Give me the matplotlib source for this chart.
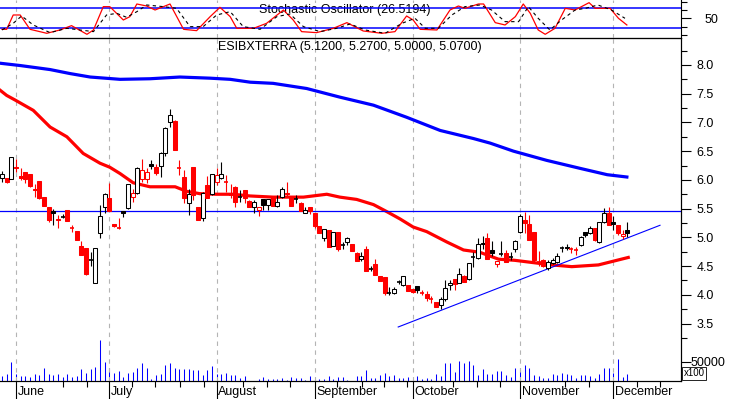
import numpy as np
import matplotlib
matplotlib.use("Agg")
import matplotlib.pyplot as plt
from matplotlib.ticker import FixedLocator, NullFormatter, FormatStrFormatter

plt.rcParams["font.family"] = ["Liberation Sans", "DejaVu Sans"]

# daily OHLC, one entry per trading day (June - early December)
opens = [6.04, 6.03, 6.02, 6.23, 6.06, 6.14, 6.10, 5.84, 5.98, 5.70,
         5.53, 5.45, 5.32, 5.36, 5.47, 5.18, 5.11, 4.85, 4.82, 4.60,
         4.21, 5.07, 5.52, 5.68, 5.23, 5.18, 5.45, 5.51, 5.70, 5.78,
         6.02, 6.02, 6.28, 6.23, 6.24, 6.46, 7.00, 7.03, 6.22, 6.05,
         5.59, 6.23, 5.53, 5.34, 5.91, 5.75, 5.97, 6.04, 5.98, 5.74,
         5.87, 5.70, 5.82, 5.63, 5.52, 5.47, 5.66, 5.57, 5.70, 5.55,
         5.70, 5.78, 5.70, 5.66, 5.60, 5.43, 5.52, 5.43, 5.19, 4.98,
         5.12, 4.85, 5.10, 4.86, 4.92, 4.88, 4.72, 4.62, 4.79, 4.45,
         4.53, 4.33, 4.31, 4.03, 4.03, 4.23, 4.17, 4.17, 4.10, 4.15,
         4.05, 4.02, 3.92, 3.88, 3.82, 3.92, 4.17, 4.27, 4.21, 4.33,
         4.27, 4.66, 4.64, 4.88, 4.98, 4.78, 4.53, 4.71, 4.72, 4.65,
         4.79, 5.10, 5.31, 5.24, 5.10, 4.57, 4.60, 4.47, 4.55, 4.57,
         4.81, 4.84, 4.81, 4.79, 4.86, 5.09, 5.07, 5.17, 4.92, 5.26,
         5.43, 5.27, 5.22, 5.02, 5.12]
highs = [6.15, 6.04, 6.40, 6.37, 6.21, 6.14, 6.11, 5.92, 5.98, 5.70,
         5.53, 5.50, 5.39, 5.40, 5.47, 5.21, 5.11, 4.94, 4.82, 4.75,
         4.81, 5.56, 5.78, 5.95, 5.24, 5.33, 5.45, 5.92, 5.85, 6.23,
         6.37, 6.20, 6.34, 6.27, 6.49, 6.92, 7.24, 7.05, 6.35, 6.18,
         5.85, 6.23, 5.53, 5.79, 6.06, 6.11, 6.20, 6.31, 6.08, 5.92,
         5.89, 5.82, 5.82, 5.65, 5.65, 5.53, 5.67, 5.67, 5.72, 5.73,
         5.87, 5.97, 5.71, 5.73, 5.61, 5.52, 5.52, 5.43, 5.19, 5.15,
         5.13, 5.10, 5.10, 4.92, 5.01, 4.88, 4.75, 4.75, 4.85, 4.50,
         4.62, 4.33, 4.31, 4.14, 4.14, 4.26, 4.33, 4.17, 4.10, 4.16,
         4.09, 4.06, 3.98, 3.88, 3.96, 4.26, 4.26, 4.27, 4.46, 4.35,
         4.55, 4.74, 4.99, 5.03, 5.07, 4.93, 4.58, 4.94, 4.78, 4.75,
         4.96, 5.40, 5.44, 5.39, 5.10, 4.77, 4.62, 4.60, 4.64, 4.72,
         4.85, 4.89, 4.84, 4.84, 5.03, 5.10, 5.19, 5.17, 5.27, 5.51,
         5.53, 5.38, 5.22, 5.12, 5.27]
lows = [5.97, 5.95, 6.01, 6.14, 6.00, 5.94, 5.88, 5.70, 5.67, 5.55,
        5.26, 5.21, 5.17, 5.33, 5.29, 5.09, 4.95, 4.70, 4.34, 4.50,
        4.20, 4.98, 5.42, 5.46, 5.18, 5.14, 5.36, 5.50, 5.62, 5.76,
        5.97, 5.94, 6.19, 6.08, 6.05, 6.42, 6.92, 6.52, 6.08, 5.59,
        5.39, 5.65, 5.31, 5.29, 5.68, 5.74, 5.91, 6.02, 5.79, 5.68,
        5.53, 5.62, 5.60, 5.53, 5.43, 5.38, 5.47, 5.47, 5.55, 5.53,
        5.69, 5.70, 5.55, 5.59, 5.46, 5.42, 5.40, 5.17, 5.08, 4.93,
        4.83, 4.85, 4.77, 4.80, 4.87, 4.77, 4.58, 4.58, 4.42, 4.41,
        4.34, 4.24, 4.00, 4.00, 4.02, 4.18, 4.15, 4.07, 4.04, 4.04,
        4.00, 3.89, 3.85, 3.78, 3.76, 3.90, 4.08, 4.09, 4.20, 4.22,
        4.26, 4.48, 4.62, 4.80, 4.63, 4.67, 4.49, 4.68, 4.57, 4.60,
        4.75, 5.08, 5.07, 4.95, 4.55, 4.50, 4.48, 4.44, 4.53, 4.56,
        4.74, 4.78, 4.72, 4.70, 4.85, 5.00, 5.06, 4.93, 4.90, 5.25,
        5.21, 5.12, 5.04, 4.97, 5.00]
closes = [6.10, 5.97, 6.39, 6.21, 6.04, 6.02, 5.89, 5.82, 5.68, 5.55,
          5.30, 5.42, 5.30, 5.36, 5.29, 5.17, 4.95, 4.70, 4.37, 4.60,
          4.81, 5.37, 5.76, 5.46, 5.19, 5.17, 5.42, 5.92, 5.78, 6.20,
          6.18, 6.13, 6.24, 6.12, 6.46, 6.91, 7.13, 6.52, 6.21, 5.68,
          5.76, 5.73, 5.31, 5.77, 5.69, 6.11, 6.09, 6.11, 5.97, 5.73,
          5.62, 5.70, 5.69, 5.53, 5.61, 5.52, 5.56, 5.66, 5.55, 5.62,
          5.85, 5.76, 5.55, 5.66, 5.46, 5.48, 5.46, 5.19, 5.08, 5.14,
          4.83, 5.10, 4.79, 4.86, 4.98, 4.77, 4.59, 4.67, 4.42, 4.45,
          4.34, 4.24, 4.03, 4.04, 4.10, 4.23, 4.33, 4.07, 4.05, 4.09,
          4.04, 3.95, 3.92, 3.78, 3.92, 4.11, 4.21, 4.18, 4.36, 4.23,
          4.55, 4.66, 4.89, 4.90, 4.63, 4.72, 4.58, 4.71, 4.57, 4.65,
          4.93, 5.37, 5.25, 4.95, 4.60, 4.57, 4.51, 4.57, 4.61, 4.67,
          4.81, 4.82, 4.80, 4.78, 5.01, 5.04, 5.17, 4.95, 5.27, 5.43,
          5.21, 5.23, 5.08, 5.06, 5.07]
# volume, in units of 100 shares
volumes = [13000, 18000, 49000, 18000, 13000, 13000, 11000, 18000, 16000, 34000,
           18000, 16000, 18000, 11000, 18000, 11000, 13000, 31000, 21000, 31000,
           36000, 106000, 49000, 34000, 21000, 26000, 11000, 21000, 23000, 34000,
           47000, 34000, 6000, 16000, 18000, 41000, 47000, 34000, 31000, 31000,
           31000, 28000, 28000, 16000, 28000, 39000, 18000, 18000, 21000, 16000,
           16000, 8000, 13000, 0, 0, 6000, 11000, 6000, 4400, 6000,
           8500, 2600, 11000, 8500, 8500, 2600, 13000, 6000, 4400, 6000,
           13000, 4400, 11000, 11000, 2600, 0, 13000, 13000, 28000, 7000,
           8500, 16000, 21000, 13000, 15000, 7000, 7000, 11000, 4000, 13000,
           6000, 8500, 6000, 18000, 13000, 46000, 46000, 24000, 52000, 46000,
           52000, 41000, 16000, 31000, 18000, 18000, 27000, 27000, 15000, 11000,
           33000, 33000, 41000, 33000, 16000, 13000, 8500, 8500, 18000, 15000,
           21000, 18000, 15000, 8500, 15000, 15000, 13000, 7000, 18000, 34000,
           33000, 21000, 57000, 11000, 18000]

# moving averages (trading-day index, price)
ma_short_x = [-0.4, 1.0, 2.8, 6.7, 10.3, 13.9, 17.4, 21.0, 23.1, 25.3, 28.1,
              31.7, 37.1, 39.6, 42.4, 46.0, 49.5, 53.2, 58.1, 64.6, 69.6, 72.4,
              76.0, 79.6, 82.4, 85.3, 88.1, 91.0, 95.3, 98.9, 102.4, 106.4, 109.9,
              117.8, 122.1, 127.8, 134.2]
ma_short = [7.56, 7.47, 7.39, 7.21, 6.92, 6.75, 6.46, 6.29, 6.22, 6.11, 5.95,
            5.88, 5.88, 5.80, 5.76, 5.75, 5.75, 5.72, 5.70, 5.70, 5.75, 5.70,
            5.66, 5.57, 5.45, 5.32, 5.18, 5.10, 4.92, 4.78, 4.74, 4.62, 4.60,
            4.52, 4.49, 4.52, 4.65]
ma_long_x = [-0.4, 3.9, 10.3, 14.6, 18.9, 25.3, 31.7, 38.1, 44.6, 48.9, 53.2,
             58.1, 65.3, 72.4, 79.6, 86.7, 93.9, 101.0, 104.6, 109.6, 116.7,
             123.9, 129.7, 133.9]
ma_long = [8.03, 7.99, 7.92, 7.85, 7.79, 7.75, 7.76, 7.79, 7.77, 7.75, 7.70,
           7.68, 7.59, 7.44, 7.30, 7.09, 6.86, 6.72, 6.64, 6.50, 6.34,
           6.20, 6.09, 6.05]

# stochastic oscillator %K and %D
stoch_k_x = [0, 1, 2.4, 3.9, 6, 9.6, 12.4, 14.9, 18.2, 19.6, 21.7, 23.1, 26, 27.4,
             28.9, 31, 32.8, 36, 38.9, 41.7, 44.6, 46.7, 48.9, 50.3, 53.9, 56.7,
             60.3, 62.4, 64.2, 67.4, 71, 73.9, 77.4, 81.4, 84.2, 86.7, 88.1, 89.6,
             93.2, 96, 97.8, 99.2, 102.1, 103.2, 105.7, 107.8, 110, 111.7, 113.2,
             114.9, 116.4, 118.5, 120.7, 122.8, 125.8, 127.1, 130.3, 132.1, 133.9]
stoch_k = [17, 17, 60, 60, 17, 5, 15, 28, 2, 15, 85, 85, 45, 55,
           93, 87, 75, 93, 17, 13, 55, 83, 55, 20, 20, 35,
           75, 45, 10, 7, 20, 37, 12, 5, 10, 57, 45, 17,
           15, 75, 87, 80, 93, 93, 37, 30, 55, 93, 65,
           15, 2, 20, 80, 75, 97, 80, 80, 50, 30]
stoch_d_x = [0, 2.4, 4.2, 6.7, 10.3, 13.9, 16.7, 19.6, 22.4, 24.6, 26.7, 28.9,
             31, 34.6, 37.4, 40.3, 43.1, 46, 48.9, 51.7, 55.3, 58.9, 61.7, 64.6,
             68.2, 71.7, 74.6, 77.8, 82.1, 85.7, 88.5, 90.7, 93.5, 96.4, 99.2,
             102.4, 104.9, 107.8, 110.7, 112.8, 114.9, 117.4, 119.9, 122.8, 125,
             127.7, 130.6, 133.5]
stoch_d = [15, 35, 57, 30, 7, 20, 15, 10, 60, 65, 53, 70,
           90, 85, 80, 25, 25, 60, 70, 25, 17, 55, 63, 25,
           10, 20, 33, 15, 5, 35, 50, 20, 20, 60, 85,
           90, 75, 40, 40, 85, 50, 15, 45, 75, 80,
           90, 75, 50]

month_idx = [3, 23, 46, 67, 88, 111, 131]
month_names = ["June", "July", "August", "September", "October", "November", "December"]
week_idx = [13.1, 18.2, 27.8, 32.8, 38.1, 43.3, 51.7, 56.7, 61.7, 71.7, 77.1,
            81.9, 86.7, 96.6, 101.7, 106.7, 120.7, 125.8, 136.0, 141.0]

resistance = 5.455
trend_x = [84.9, 141.0]
trend_y = [3.44, 5.21]

W, H = 730, 399
fig = plt.figure(figsize=(W / 100, H / 100), dpi=100)
right_px, top_px, bot_px, osc_bot_px = 681, 38.3, 381, 38.3
ax = fig.add_axes([0, 1 - bot_px / H, right_px / W, (bot_px - top_px) / H])
osc = fig.add_axes([0, 1 - osc_bot_px / H, right_px / W, osc_bot_px / H], sharex=ax)

xlim = (-0.43, 145.5)
ax.set_xlim(*xlim)
ax.set_ylim(2.50, 8.464)

grid_kw = dict(color="#b4b4b4", lw=0.8, ls=(0, (4, 4)), zorder=0)
for m in month_idx:
    ax.axvline(m, **grid_kw)
    osc.axvline(m, **grid_kw)

# volume on its own scale at the bottom of the price panel
vax = ax.twinx()
vax.set_ylim(0, 888600)
vax.vlines(np.arange(len(volumes)), 0, volumes, color="#0000ff", lw=0.75)
vax.set_zorder(ax.get_zorder() - 1)
ax.patch.set_visible(False)

# candlesticks
prev = None
for i, (o, h, l, c) in enumerate(zip(opens, highs, lows, closes)):
    col = "#ff0000" if (prev is not None and c < prev) else "#000000"
    prev = c
    ax.vlines(i, l, h, color=col, lw=0.8, zorder=3)
    if abs(c - o) < 0.015:
        ax.hlines(c, i - 0.42, i + 0.42, color=col, lw=1.2, zorder=4)
    else:
        face = col if c < o else "white"
        ax.bar(i, abs(c - o), bottom=min(o, c), width=0.8, facecolor=face,
               edgecolor=col, lw=0.75, zorder=4)

ax.plot(ma_short_x, ma_short, color="#ff0000", lw=2.3, zorder=2)
ax.plot(ma_long_x, ma_long, color="#0000ff", lw=2.3, zorder=2)
ax.axhline(resistance, color="#0000ff", lw=0.9, zorder=2)
ax.plot(trend_x, trend_y, color="#0000ff", lw=0.8, zorder=2)

ax.text(218 / right_px, 1 - (47 - top_px) / (bot_px - top_px),
        "ESIBXTERRA (5.1200, 5.2700, 5.0000, 5.0700)", transform=ax.transAxes,
        fontsize=9, va="center", ha="left")

# price axis on the right
ax.yaxis.tick_right()
ax.yaxis.set_major_locator(FixedLocator(np.arange(3.5, 8.01, 0.5)))
ax.yaxis.set_minor_locator(FixedLocator(np.arange(3.25, 8.3, 0.25)))
ax.yaxis.set_major_formatter(FormatStrFormatter("%.1f"))
ax.tick_params(axis="y", which="major", length=7, width=0.8, pad=4, labelsize=9)
ax.tick_params(axis="y", which="minor", length=4, width=0.8)

vax.yaxis.set_major_locator(FixedLocator([50000]))
vax.yaxis.set_major_formatter(FormatStrFormatter("%d"))
vax.tick_params(axis="y", length=7, width=0.8, pad=0, labelsize=9)
vax.text(1.004, 0.008, "x100", transform=vax.transAxes,
         fontsize=7, ha="left", va="bottom", clip_on=False,
         bbox=dict(boxstyle="square,pad=0.15", fc="white", ec="black", lw=0.6))

for a in (ax, vax):
    a.spines["left"].set_visible(False)
    a.spines["top"].set_linewidth(0.8)
    a.spines["bottom"].set_linewidth(0.8)
    a.spines["right"].set_linewidth(0.8)

# x axis: months and weeks
ax.xaxis.set_major_locator(FixedLocator(month_idx))
ax.xaxis.set_minor_locator(FixedLocator(week_idx))
ax.xaxis.set_major_formatter(NullFormatter())
ax.tick_params(axis="x", which="major", length=14, width=0.8, direction="out")
ax.tick_params(axis="x", which="minor", length=4, width=0.8, direction="out")
for m, name in zip(month_idx, month_names):
    ax.text(m + 0.35, -0.032, name, transform=ax.get_xaxis_transform(),
            fontsize=9, ha="left", va="center", clip_on=False)
vax.tick_params(axis="x", which="both", bottom=False)

# stochastic panel
osc.set_ylim(-10, 105)
osc.plot(stoch_k_x, stoch_k, color="#ff0000", lw=0.9, zorder=3)
osc.plot(stoch_d_x, stoch_d, color="black", lw=0.8, ls=(0, (3, 3)), zorder=3)
osc.axhline(80, color="#0000ff", lw=1.1, zorder=2)
osc.axhline(20, color="#0000ff", lw=1.1, zorder=2)
osc.text(0.38, 0.74, "Stochastic Oscillator (26.5194)", transform=osc.transAxes,
         fontsize=9, ha="left", va="center", zorder=1)
osc.yaxis.tick_right()
osc.yaxis.set_major_locator(FixedLocator([50]))
osc.yaxis.set_minor_locator(FixedLocator([0, 25, 75, 100]))
osc.tick_params(axis="y", which="major", length=7, width=0.8, pad=10, labelsize=9)
osc.tick_params(axis="y", which="minor", length=4, width=0.8)
osc.tick_params(axis="x", which="both", bottom=False, labelbottom=False)
osc.spines["left"].set_visible(False)
osc.spines["top"].set_visible(False)
osc.spines["bottom"].set_linewidth(0.8)
osc.spines["right"].set_linewidth(0.8)
osc.patch.set_visible(False)

fig.savefig("out.png", dpi=100)
